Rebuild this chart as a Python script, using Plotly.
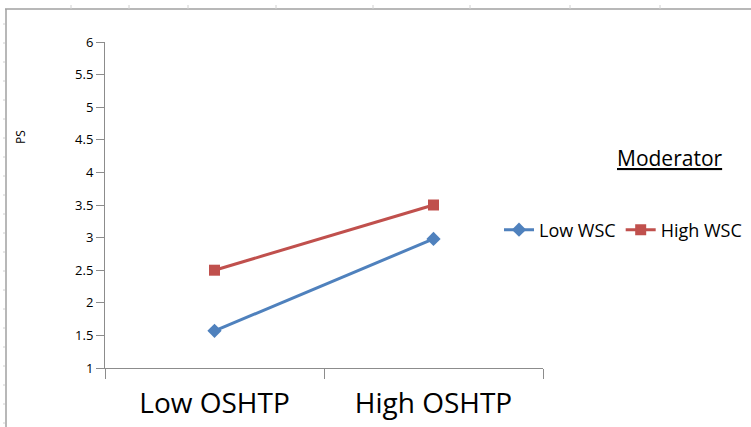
import plotly.graph_objects as go

categories = ["Low OSHTP", "High OSHTP"]
low_wsc = [1.57, 2.98]
high_wsc = [2.50, 3.50]
y_ticks = [1, 1.5, 2, 2.5, 3, 3.5, 4, 4.5, 5, 5.5, 6]
y_tick_labels = ["1", "1.5", "2", "2.5", "3", "3.5", "4", "4.5", "5", "5.5", "6"]

W, H = 751, 427
L, R, T, B = 105, 208, 42, 59

fig = go.Figure()
fig.add_trace(go.Scatter(
    x=categories, y=low_wsc, name="Low WSC", mode="lines+markers",
    line=dict(color="#4F81BD", width=3),
    marker=dict(symbol="diamond", size=11, color="#4F81BD"),
))
fig.add_trace(go.Scatter(
    x=categories, y=high_wsc, name="High WSC", mode="lines+markers",
    line=dict(color="#C0504D", width=3),
    marker=dict(symbol="square", size=11, color="#C0504D"),
))

font_family = "'Open Sans', sans-serif"


def px_x(v):
    return (v - L) / (W - L - R)


def px_y(v):
    return (H - B - v) / (H - T - B)


fig.update_layout(
    width=W, height=H,
    margin=dict(l=L, r=R, t=T, b=B, pad=0, autoexpand=False),
    paper_bgcolor="white", plot_bgcolor="white",
    font=dict(family=font_family, color="#000000"),
    showlegend=True,
    legend=dict(
        orientation="h", x=px_x(499), y=px_y(230),
        xanchor="left", yanchor="middle", font=dict(size=18, family=font_family),
        bgcolor="rgba(0,0,0,0)", itemwidth=30, tracegroupgap=0,
    ),
    xaxis=dict(
        type="category", range=[-0.5, 1.5], showgrid=False, zeroline=False,
        showline=True, linecolor="#8c8c8c", linewidth=1, automargin=False,
        ticks="outside", tickson="boundaries", ticklen=10, tickcolor="#8c8c8c",
        ticklabelstandoff=10,
        tickfont=dict(size=28, family=font_family, color="#000000"),
    ),
    yaxis=dict(
        range=[1, 6], showgrid=False, zeroline=False, automargin=False,
        showline=True, linecolor="#8c8c8c", linewidth=1,
        ticks="outside", ticklen=8, tickcolor="#8c8c8c",
        tickvals=y_ticks, ticktext=y_tick_labels,
        tickfont=dict(size=13, family=font_family, color="#000000"),
    ),
    annotations=[
        dict(text="PS", x=px_x(20), y=px_y(137), xref="paper", yref="paper", showarrow=False,
             textangle=-90, xanchor="center", yanchor="middle",
             font=dict(size=12, family=font_family)),
        dict(text="<u>Moderator</u>", x=px_x(670), y=px_y(158), xref="paper", yref="paper",
             showarrow=False, xanchor="center", yanchor="middle",
             font=dict(size=21, family=font_family)),
    ],
)

shapes = [
    dict(type="line", xref="paper", yref="paper", x0=px_x(5), x1=px_x(751), y0=px_y(9), y1=px_y(9),
         line=dict(color="#a0a0a0", width=1.5)),
    dict(type="line", xref="paper", yref="paper", x0=px_x(6), x1=px_x(6), y0=px_y(9), y1=px_y(427),
         line=dict(color="#a0a0a0", width=1.5)),
]
for tx in [71, 129, 188, 276, 373, 470, 570, 660]:
    shapes.append(dict(type="line", xref="paper", yref="paper", x0=px_x(tx), x1=px_x(tx),
                       y0=px_y(5), y1=px_y(9), line=dict(color="#d0d0d0", width=1)))
for ty in range(24, 427, 19):
    shapes.append(dict(type="line", xref="paper", yref="paper", x0=px_x(3), x1=px_x(5),
                       y0=px_y(ty), y1=px_y(ty), line=dict(color="#d0d0d0", width=1)))
fig.update_layout(shapes=shapes)

fig.write_html("out.html", config={"displayModeBar": False},
               post_script="document.body.style.margin='0';")
